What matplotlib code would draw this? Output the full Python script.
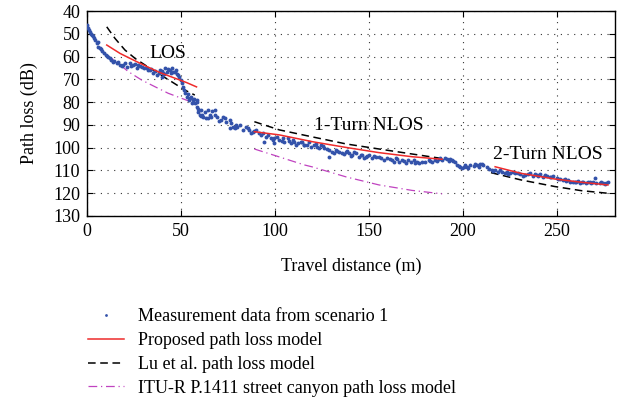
import matplotlib.pyplot as plt
from matplotlib.lines import Line2D

meas_x = [0, 0.4, 1.6, 2.5, 3.4, 4.2, 6.0, 6.9, 8.7, 9.9, 11.3, 12.2, 13.9, 15.7, 17.5,
          19.2, 21.0, 22.8, 24.6, 27.2, 29.0, 31.6, 33.4, 35.2, 37.0, 38.7, 39.6, 40.5,
          41.4, 42.3, 44.0, 45.2, 46.7, 48.4, 49.8, 51.1, 52.0, 52.9, 54.6, 56.4, 57.3,
          58.2, 58.2, 59.0, 59.9, 60.8, 61.1, 61.7, 64.3, 64.3, 65.2, 67.9, 67.9, 71.4,
          73.2, 74.1, 75.8, 75.8, 77.6, 79.4, 81.1, 82.9, 84.7, 86.4, 88.2, 90.0, 91.7,
          93.5, 94.4, 96.1, 97.9, 99.7, 99.7, 102.3, 105.0, 106.7, 108.5, 110.3, 112.0,
          113.8, 115.2, 115.6, 118.2, 119.1, 120.9, 122.6, 124.4, 126.2, 128.8, 128.8,
          130.6, 132.4, 134.1, 135.9, 137.7, 139.4, 141.2, 143.0, 144.7, 146.5, 148.3,
          150.1, 151.8, 153.6, 155.4, 158.0, 159.8, 162.4, 164.2, 166.0, 167.7, 169.5,
          172.2, 173.9, 175.7, 176.6, 180.1, 181.9, 183.6, 185.4, 187.2, 189.0, 190.7,
          192.5, 194.2, 196.0, 196.9, 198.7, 200.4, 202.2, 204.0, 205.7, 207.5, 209.3,
          211.0, 212.8, 215.4, 217.2, 218.9, 220.7, 222.5, 225.2, 226.9, 227.8, 230.5,
          233.1, 235.8, 237.5, 239.3, 241.1, 242.8, 244.6, 246.4, 248.1, 249.9, 251.7,
          253.4, 255.2, 257.0, 258.7, 260.5, 262.3, 264.0, 265.8, 267.6, 269.4, 270.2,
          271.1, 272.9, 274.7, 276.4,
          1.0, 2.0, 3.0, 5.0, 5.5, 7.5, 8.0, 10.5, 12.8, 14.5, 16.5, 18.3, 20.0, 23.5,
          25.5, 26.3, 28.0, 30.0, 32.5, 34.0, 36.0, 38.0, 39.0, 40.0, 41.0, 43.0, 44.5,
          45.8, 47.5, 48.0, 49.0, 50.5, 51.5, 53.5, 54.0, 55.5, 56.0, 57.0, 58.5, 59.2,
          60.5, 62.5, 63.0, 66.0, 66.5, 69.0, 70.0, 72.5, 76.5, 78.5, 80.0, 85.5, 87.0,
          89.0, 92.5, 95.0, 98.8, 101.0, 103.5, 104.0, 107.5, 109.5, 111.0, 114.5, 117.0,
          121.8, 123.5, 125.3, 127.5, 131.5, 133.0, 136.8, 138.5, 140.3, 142.0, 145.6,
          147.4, 149.2, 152.7, 156.5, 161.0, 163.3, 165.0, 168.6, 171.0, 174.8, 178.0,
          182.7, 186.3, 188.0, 191.6, 193.3, 195.0, 197.8, 199.5, 201.3, 203.0, 206.6,
          208.4, 210.2, 214.0, 216.3, 219.8, 223.4, 224.3, 229.2, 232.0, 234.5, 238.4,
          240.2, 243.7, 247.2, 250.8, 254.3, 256.1, 259.6, 261.4, 263.2, 266.7, 268.5,
          273.8, 275.6, 277.3]
meas_y = [46.1, 47.6, 49.1, 50.5, 52.0, 52.7, 55.7, 56.4, 58.6, 59.3, 60.1, 60.8, 62.3, 63.0, 63.7,
          63.7, 64.5, 63.0, 63.7, 63.7, 64.5, 65.2, 66.0, 67.4, 68.1, 66.6, 68.8, 67.4,
          65.2, 66.6, 66.0, 65.2, 66.6, 68.1, 70.3, 73.2, 76.1, 77.6, 78.3, 79.1, 80.5,
          82.0, 79.1, 84.2, 85.7, 83.5, 85.7, 86.4, 83.5, 87.1, 85.7, 83.5, 85.7, 87.8,
          87.1, 88.6, 87.8, 91.5, 90.8, 90.0, 90.0, 92.2, 90.8, 92.2, 93.0, 92.2, 93.7,
          93.7, 97.4, 94.4, 95.9, 95.9, 98.1, 96.6, 97.4, 95.9, 98.1, 97.4, 98.1,
          97.4, 98.8, 98.8, 97.4, 99.6, 98.8, 99.6, 98.8, 100.3, 101.0, 104.0,
          101.8, 101.0, 101.8, 102.5, 101.8, 102.5, 103.2, 102.5, 104.0, 103.2, 104.0,
          103.2, 104.7, 104.0, 104.0, 105.4, 104.7, 105.4, 104.7, 106.1, 105.4, 106.9,
          106.1, 105.4, 106.1, 106.9, 106.1, 105.4, 106.1, 105.4, 105.1, 105.4, 104.7,
          105.7, 105.4, 106.1, 107.6, 108.3, 108.3, 108.3, 107.6, 108.0, 107.6, 107.2,
          107.6, 108.3, 109.8, 109.8, 110.5, 110.5, 111.3, 111.3, 110.5, 111.3, 111.6,
          112.0, 111.3, 112.4, 112.0, 111.6, 112.8, 112.4, 113.0, 112.4, 113.4, 113.9,
          114.2, 114.5, 114.9, 114.9, 114.9, 115.4, 114.9, 115.4, 114.9, 114.9, 113.4,
          115.6, 115.6, 115.4, 115.6,
          48.5, 50.0, 51.0, 54.0, 53.5, 56.5, 57.5, 59.8, 61.5, 61.8, 62.5, 64.2, 63.0, 64.2,
          63.2, 64.8, 64.0, 65.0, 65.8, 65.5, 66.5, 67.2, 65.8, 66.2, 67.8, 65.5, 67.0,
          66.8, 65.8, 67.5, 69.0, 71.8, 74.5, 76.5, 79.0, 77.8, 80.5, 78.5, 80.0, 83.0,
          86.3, 84.5, 86.8, 86.5, 84.0, 86.5, 88.3, 86.5, 89.0, 91.2, 91.0, 91.5, 93.6,
          92.8, 94.5, 95.2, 96.5, 95.5, 97.0, 95.8, 97.0, 96.6, 98.8, 97.6, 99.0,
          98.2, 100.0, 99.2, 100.8, 102.3, 101.4, 102.8, 101.4, 103.6, 102.0, 103.4,
          104.6, 103.7, 103.8, 104.4, 105.0, 106.3, 105.2, 105.8, 105.6, 106.6, 106.4,
          105.8, 105.8, 104.6, 105.2, 104.9, 105.8, 108.0, 108.8, 107.8, 108.8, 107.3,
          108.3, 107.0, 109.2, 110.2, 110.0, 110.8, 111.8, 111.2, 112.4, 111.8, 111.7,
          112.6, 111.9, 112.7, 113.6, 114.0, 114.2, 115.2, 114.6, 115.0, 115.0, 115.4,
          115.2, 115.9, 115.3]

# proposed model (red)
prop_los_x = [10.4, 17.5, 24.6, 31.6, 38.7, 45.8, 52.9, 58.2]
prop_los_y = [54.9, 58.6, 61.5, 64.3, 67.0, 69.2, 71.4, 73.3]
prop_n1_x = [89, 102.3, 120, 137.7, 155.4, 173, 189]
prop_n1_y = [93.0, 94.4, 97.4, 99.9, 102.2, 104.0, 105.1]
prop_n2_x = [217.2, 231, 249, 263, 277.3]
prop_n2_y = [108.4, 111.3, 113.8, 115.2, 116.4]

# Lu et al. model (black dashed)
lu_los_x = [10.4, 14.8, 20.1, 25.5, 30.8, 37.8, 44.9, 52.0, 57.3]
lu_los_y = [46.9, 52.0, 57.1, 60.8, 63.7, 67.4, 71.0, 74.7, 76.9]
lu_n1_x = [89, 102.3, 120, 138, 155.4, 173, 190.7]
lu_n1_y = [88.6, 92.2, 95.3, 98.4, 100.6, 102.8, 105.0]
lu_n2_x = [215, 231, 249, 263, 279]
lu_n2_y = [111.0, 114.2, 117.1, 118.9, 120.2]

# ITU-R P.1411 model (magenta dash-dot)
itu_los_x = [10, 13.1, 16.6, 21.9, 29.0, 36.0, 43.1, 50.2, 58.2]
itu_los_y = [59.5, 60.8, 63.0, 66.6, 70.3, 73.2, 76.1, 78.3, 80.8]
itu_n1_x = [89, 99.7, 115.6, 120, 138, 155.4, 173, 189]
itu_n1_y = [100.6, 103.4, 107.6, 108.5, 112.9, 116.4, 118.8, 120.3]

plt.rcParams['font.family'] = 'Liberation Serif'
plt.rcParams['font.size'] = 13

red = '#ee2b2b'
mag = '#c043c0'
blue = '#3352aa'

fig = plt.figure(figsize=(6.32, 4.12), dpi=100)
ax = fig.add_axes([0.138, 0.476, 0.835, 0.497])

ax.plot(meas_x, meas_y, 'o', color=blue, ms=2.8, mew=0, zorder=3)

for xs, ys in [(prop_los_x, prop_los_y), (prop_n1_x, prop_n1_y), (prop_n2_x, prop_n2_y)]:
    ax.plot(xs, ys, color=red, lw=1.1, zorder=4)
for xs, ys in [(lu_los_x, lu_los_y), (lu_n1_x, lu_n1_y), (lu_n2_x, lu_n2_y)]:
    ax.plot(xs, ys, color='black', lw=1.1, dashes=(5, 3), zorder=2)
for xs, ys in [(itu_los_x, itu_los_y), (itu_n1_x, itu_n1_y)]:
    ax.plot(xs, ys, color=mag, lw=0.9, dashes=(7, 3, 1, 3), zorder=2)

ax.text(43, 58.5, 'LOS', fontsize=14, ha='center', va='center')
ax.text(150, 90.3, '1-Turn NLOS', fontsize=14, ha='center', va='center')
ax.text(245, 103.2, '2-Turn NLOS', fontsize=14, ha='center', va='center')

ax.set_xlim(0, 281)
ax.set_ylim(130, 40)
ax.set_xticks([0, 50, 100, 150, 200, 250])
ax.set_yticks(range(40, 131, 10))
ax.tick_params(direction='in', top=True, right=True, length=4, width=0.8, pad=5)
ax.grid(True, color='#333333', linestyle=(0, (1, 5)), linewidth=0.8)
for s in ax.spines.values():
    s.set_linewidth(1.0)

ax.set_xlabel('Travel distance (m)', labelpad=13)
ax.set_ylabel('Path loss (dB)', labelpad=11)

handles = [
    Line2D([], [], marker='o', ls='none', color=blue, ms=2, mew=0),
    Line2D([], [], color=red, lw=1.1),
    Line2D([], [], color='black', lw=1.1, dashes=(5, 3)),
    Line2D([], [], color=mag, lw=0.9, dashes=(7, 3, 1, 3)),
]
labels = ['Measurement data from scenario 1', 'Proposed path loss model',
          'Lu et al. path loss model', 'ITU-R P.1411 street canyon path loss model']
fig.legend(handles, labels, loc='upper left', bbox_to_anchor=(0.139, 0.252),
           frameon=False, handlelength=2.0, handletextpad=0.8, labelspacing=0.38,
           borderpad=0, borderaxespad=0)

fig.savefig('out.png', dpi=100)
